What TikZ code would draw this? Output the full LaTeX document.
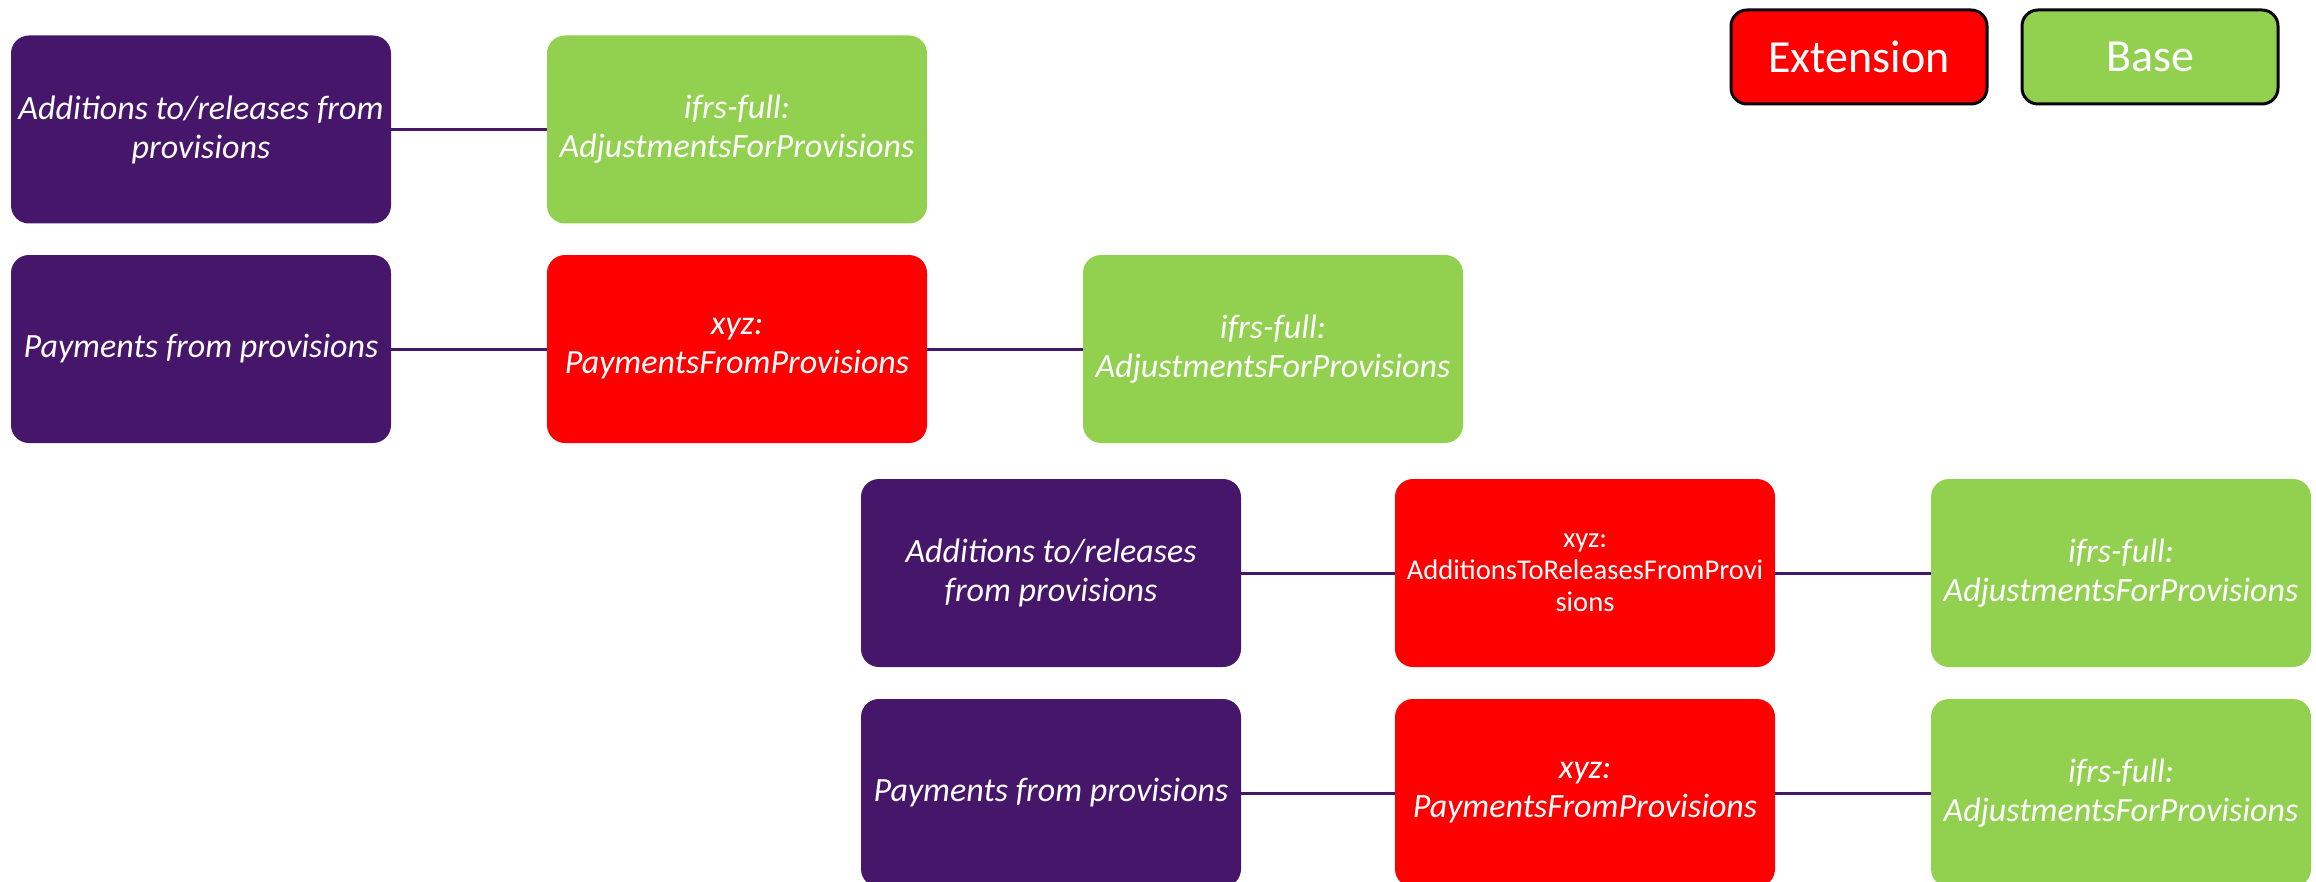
\documentclass[tikz,border=0pt]{standalone}
\usepackage{fontspec}
\setmainfont{Carlito}
\usepackage{xcolor}
\usepackage{tikz}
\usetikzlibrary{positioning}
\definecolor{itempurple}{RGB}{70,22,107}
\definecolor{extred}{RGB}{255,0,0}
\definecolor{basegreen}{RGB}{146,208,80}

\begin{document}
\begin{tikzpicture}[x=0.5pt,y=-0.5pt,
    box/.style={rounded corners=9pt,minimum width=190pt,minimum height=94pt,
        inner sep=2pt,align=center,text=white,
        font=\fontsize{17}{19.5}\selectfont\itshape},
    item/.style={box,fill=itempurple},
    ext/.style={box,fill=extred},
    base/.style={box,fill=basegreen},
    legendbox/.style={rounded corners=8pt,draw=black!85!itempurple,line width=1.5pt,
        minimum width=128pt,minimum height=47pt,text=white,
        font=\fontsize{23}{26}\selectfont},
    link/.style={itempurple,line width=1.5pt}]
                \useasboundingbox (0,0) rectangle (2316,882);
                \clip (0,0) rectangle (2316,882);
                % Legend
                \node[legendbox,fill=extred] (legext) at (1859,57) {Extension};
                \node[legendbox,fill=basegreen] (legbase) at (2150,57) {Base};
                % First row
                \node[item] (addA) at (201,129.5) {Additions to/releases from\\provisions};
                \node[base] (adjA) at (737,129.5) {ifrs-full:\\AdjustmentsForProvisions};
                \draw[link] (addA) -- (adjA);
                % Second row
                \node[item] (payA) at (201,349) {Payments from provisions};
                \node[ext] (xpayA) at (737,349) {xyz:\\PaymentsFromProvisions};
                \node[base] (adjB) at (1273,349) {ifrs-full:\\AdjustmentsForProvisions};
                \draw[link] (payA) -- (xpayA);
                \draw[link] (xpayA) -- (adjB);
                % Third row
                \node[item] (addB) at (1051,573) {Additions to/releases\\from provisions};
                \node[ext,font=\fontsize{14.3}{16}\selectfont] (xaddB) at (1585,573)
                    {xyz:\\AdditionsToReleasesFromProvi\\sions};
                \node[base] (adjC) at (2121,573) {ifrs-full:\\AdjustmentsForProvisions};
                \draw[link] (addB) -- (xaddB);
                \draw[link] (xaddB) -- (adjC);
                % Fourth row
                \node[item] (payB) at (1051,793) {Payments from provisions};
                \node[ext] (xpayB) at (1585,793) {xyz:\\PaymentsFromProvisions};
                \node[base] (adjD) at (2121,793) {ifrs-full:\\AdjustmentsForProvisions};
                \draw[link] (payB) -- (xpayB);
                \draw[link] (xpayB) -- (adjD);
            \end{tikzpicture}
\end{document}
